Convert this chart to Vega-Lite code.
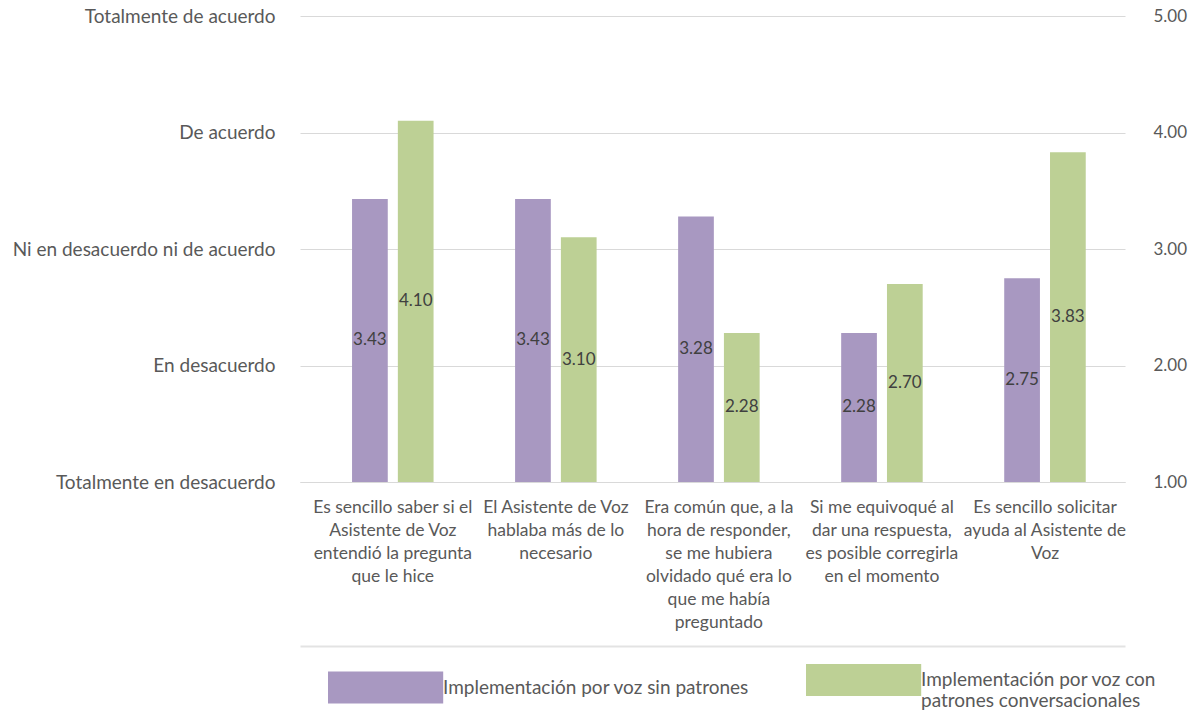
{
  "$schema": "https://vega.github.io/schema/vega-lite/v6.json",
  "width": 825,
  "height": 466,
  "autosize": {"type": "none"},
  "padding": {"left": 300, "top": 16, "right": 71, "bottom": 230},
  "background": "white",
  "config": {"font": "Lato", "view": {"stroke": null}},
  "data": {
    "values": [
      {"q": "Es sencillo saber si el|Asistente de Voz|entendió la pregunta|que le hice", "serie": "Implementación por voz sin patrones", "value": 3.43},
      {"q": "Es sencillo saber si el|Asistente de Voz|entendió la pregunta|que le hice", "serie": "Implementación por voz con patrones conversacionales", "value": 4.10},
      {"q": "El Asistente de Voz|hablaba más de lo|necesario", "serie": "Implementación por voz sin patrones", "value": 3.43},
      {"q": "El Asistente de Voz|hablaba más de lo|necesario", "serie": "Implementación por voz con patrones conversacionales", "value": 3.10},
      {"q": "Era común que, a la|hora de responder,|se me hubiera|olvidado qué era lo|que me había|preguntado", "serie": "Implementación por voz sin patrones", "value": 3.28},
      {"q": "Era común que, a la|hora de responder,|se me hubiera|olvidado qué era lo|que me había|preguntado", "serie": "Implementación por voz con patrones conversacionales", "value": 2.28},
      {"q": "Si me equivoqué al|dar una respuesta,|es posible corregirla|en el momento", "serie": "Implementación por voz sin patrones", "value": 2.28},
      {"q": "Si me equivoqué al|dar una respuesta,|es posible corregirla|en el momento", "serie": "Implementación por voz con patrones conversacionales", "value": 2.70},
      {"q": "Es sencillo solicitar|ayuda al Asistente de|Voz", "serie": "Implementación por voz sin patrones", "value": 2.75},
      {"q": "Es sencillo solicitar|ayuda al Asistente de|Voz", "serie": "Implementación por voz con patrones conversacionales", "value": 3.83}
    ]
  },
  "layer": [
    {
      "mark": {"type": "bar"},
      "encoding": {
        "x": {
          "field": "q", "type": "nominal", "sort": null,
          "scale": {"paddingInner": 0.5, "paddingOuter": 0.28, "align": 0.57},
          "axis": {
            "title": null, "labelExpr": "split(datum.value, '|')", "labelAngle": 0,
            "labelFontSize": 17.5, "labelColor": "#595959", "labelPadding": 16,
            "labelLineHeight": 23, "labelBaseline": "top", "ticks": false,
            "domain": true, "domainColor": "#d9d9d9", "labelLimit": 0
          }
        },
        "xOffset": {
          "field": "serie", "type": "nominal",
          "sort": ["Implementación por voz sin patrones", "Implementación por voz con patrones conversacionales"],
          "scale": {"paddingInner": 0.22}
        },
        "y": {
          "field": "value", "type": "quantitative",
          "scale": {"domain": [1, 5], "nice": false, "zero": false},
          "axis": {
            "title": null, "values": [1, 2, 3, 4, 5],
            "labelExpr": "datum.value == 1 ? 'Totalmente en desacuerdo' : datum.value == 2 ? 'En desacuerdo' : datum.value == 3 ? 'Ni en desacuerdo ni de acuerdo' : datum.value == 4 ? 'De acuerdo' : 'Totalmente de acuerdo'",
            "grid": true, "gridColor": "#d9d9d9", "domain": false, "ticks": false,
            "labelPadding": 25, "labelFontSize": 19, "labelColor": "#595959", "labelLimit": 0
          }
        },
        "y2": {"datum": 1},
        "color": {
          "field": "serie", "type": "nominal",
          "sort": ["Implementación por voz sin patrones", "Implementación por voz con patrones conversacionales"],
          "scale": {"range": ["#a898c1", "#bdd095"]},
          "legend": {
            "title": null, "orient": "none", "legendX": 28, "legendY": 632,
            "direction": "horizontal",
            "symbolType": "M-1,-0.5H2.6V0.5H-1Z", "symbolSize": 4096,
            "symbolStrokeWidth": 0, "symbolOpacity": 1,
            "labelFontSize": 19, "labelColor": "#595959", "labelLimit": 400,
            "labelOffset": 51, "columnPadding": 56,
            "labelExpr": "datum.label == 'Implementación por voz con patrones conversacionales' ? ['Implementación por voz con', 'patrones conversacionales'] : datum.label"
          }
        }
      }
    },
    {
      "transform": [{"calculate": "(datum.value + 1) / 2", "as": "mid"}],
      "mark": {"type": "text", "fontSize": 17, "color": "#404040"},
      "encoding": {
        "x": {
          "field": "q", "type": "nominal", "sort": null,
          "axis": {
            "orient": "bottom", "offset": 164, "title": null, "labels": false,
            "ticks": false, "grid": false, "domain": true,
            "domainColor": "#e3e3e3", "domainWidth": 2
          }
        },
        "xOffset": {
          "field": "serie", "type": "nominal",
          "sort": ["Implementación por voz sin patrones", "Implementación por voz con patrones conversacionales"]
        },
        "y": {
          "field": "mid", "type": "quantitative",
          "scale": {"domain": [1, 5], "nice": false, "zero": false},
          "axis": {
            "orient": "right", "title": null, "values": [1, 2, 3, 4, 5], "format": ".2f",
            "grid": false, "domain": false, "ticks": false, "labelPadding": 28,
            "labelFontSize": 17, "labelColor": "#595959"
          }
        },
        "text": {"field": "value", "type": "quantitative", "format": ".2f"}
      }
    }
  ],
  "resolve": {"scale": {"y": "independent"}, "axis": {"x": "independent"}}
}
